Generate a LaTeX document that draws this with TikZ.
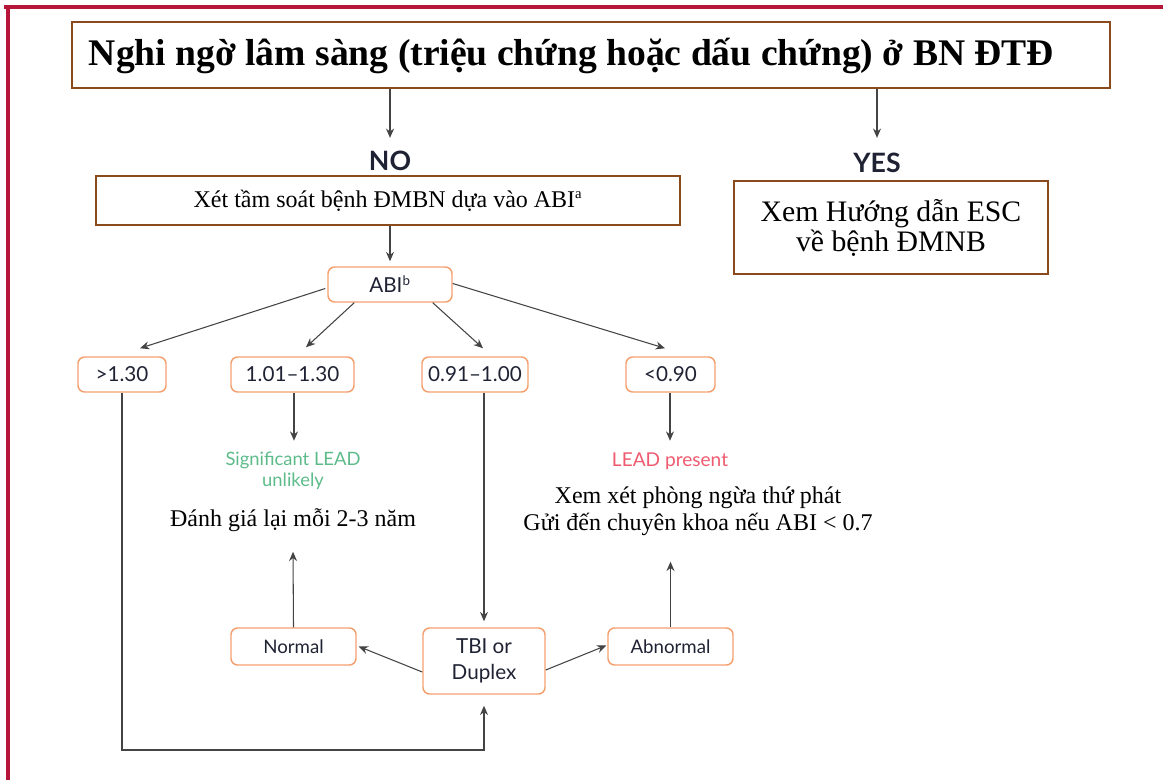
\documentclass[tikz,border=0pt]{standalone}
\usepackage{fontspec}
\setmainfont{Liberation Serif}
\newfontfamily\gs{Lato}
\usetikzlibrary{arrows.meta,calc}
\definecolor{frame}{HTML}{B5163A}
\definecolor{brownb}{HTML}{8B4A1C}
\definecolor{orb}{HTML}{F4A06E}
\definecolor{greent}{HTML}{5DBB8A}
\definecolor{redt}{HTML}{EE5A6F}
\definecolor{linec}{HTML}{444444}
\definecolor{navy}{HTML}{1F2233}
\begin{document}
\begin{tikzpicture}[x=0.75pt,y=-0.75pt,
  brownbox/.style={draw=brownb,line width=1.5pt,inner sep=0pt,align=center},
  orbox/.style={draw=orb,line width=1.1pt,rounded corners=5pt,inner sep=0pt,align=center,font=\gs\fontsize{14}{17}\selectfont,text=navy},
  rangebox/.style={orbox,font=\gs\fontsize{15.5}{18}\selectfont},
  arr/.style={draw=linec,line width=0.8pt,-{Stealth[length=7pt,width=6pt]}},
  ln/.style={draw=linec,line width=0.8pt},
  lbl/.style={inner sep=0pt,align=center}]
\useasboundingbox (0,0) rectangle (1163,780);
\draw[frame,line width=2.4pt] (4,7) -- (1163,7);
\draw[frame,line width=2.4pt] (8,6) -- (8,780);

\node[brownbox,minimum width=1038*0.75pt,minimum height=66*0.75pt] (title) at (591,55) {};
\node[lbl,font=\fontsize{28.2}{32}\selectfont\bfseries] (titletext) at (571.5,56)
  {Nghi ngờ lâm sàng (triệu chứng hoặc dấu chứng) ở BN ĐTĐ};

\node[lbl,font=\gs\fontsize{20}{24}\selectfont\bfseries,text=navy] (no) at (390,161) {NO};
\node[lbl,font=\gs\fontsize{20}{24}\selectfont\bfseries,text=navy] (yes) at (877,163) {YES};
\draw[arr] (title.south -| no) -- ($(no.north)+(0,-13)$);
\draw[arr] (title.south -| yes) -- ($(yes.north)+(0,-15)$);

\node[brownbox,minimum width=584*0.75pt,minimum height=49*0.75pt,font=\fontsize{18}{21}\selectfont] (xet) at (388,200.5)
  {Xét tầm soát bệnh ĐMBN dựa vào ABI\textsuperscript{\fontsize{11}{12}\selectfont a}};
\node[brownbox,minimum width=314*0.75pt,minimum height=93*0.75pt,font=\fontsize{22.3}{22.5}\selectfont] (esc) at (891,227.5)
  {Xem Hướng dẫn ESC\\về bệnh ĐMNB};

\node[rangebox,minimum width=124*0.75pt,minimum height=35*0.75pt] (abi) at (390,284.5) {ABI\textsuperscript{\fontsize{10}{11}\selectfont b}};
\draw[arr] (xet.south -| abi.north) -- ($(abi.north)+(0,-5)$);

\node[rangebox,minimum width=88*0.75pt,minimum height=35*0.75pt] (g130) at (122,374.5) {>1.30};
\node[rangebox,minimum width=123*0.75pt,minimum height=35*0.75pt] (b101) at (292.5,374.5) {1.01–1.30};
\node[rangebox,minimum width=106*0.75pt,minimum height=35*0.75pt] (b091) at (475,374.5) {0.91–1.00};
\node[rangebox,minimum width=89*0.75pt,minimum height=35*0.75pt] (l090) at (670.5,374.5) {<0.90};

\draw[arr] ($(abi.west)+(-2,4)$) -- ($(g130.north)+(18,-8)$);
\draw[arr] ($(abi.south west)+(27,0)$) -- ($(b101.north)+(13.5,-9)$);
\draw[arr] ($(abi.south east)+(-20,0)$) -- ($(b091.north)+(8,-8)$);
\draw[arr] ($(abi.east)+(0,-1)$) -- ($(l090.north)+(-5.5,-8)$);

\node[lbl,font=\gs\fontsize{13.8}{16}\selectfont,text=greent] (sig) at (293,471) {Significant LEAD\\unlikely};
\node[lbl,font=\fontsize{18}{21}\selectfont] (danh) at (293,520) {Đánh giá lại mỗi 2-3 năm};
\node[lbl,font=\gs\fontsize{14.3}{16}\selectfont,text=redt] (pres) at (670,461) {LEAD present};
\node[lbl,font=\fontsize{18}{20.2}\selectfont] (xem) at (698,511) {Xem xét phòng ngừa thứ phát\\Gửi đến chuyên khoa nếu ABI < 0.7};

\draw[arr] ($(b101.south)+(1.5,0)$) -- ($(b101.south)+(1.5,48)$);
\draw[arr] ($(l090.south)+(-0.5,0)$) -- ($(l090.south)+(-0.5,48)$);

\node[orbox,minimum width=122*0.75pt,minimum height=66*0.75pt,font=\gs\fontsize{15.5}{20}\selectfont] (tbi) at (484,661) {TBI or\\Duplex};
\node[orbox,minimum width=125*0.75pt,minimum height=37*0.75pt] (normal) at (293.5,646.5) {Normal};
\node[orbox,minimum width=125*0.75pt,minimum height=37*0.75pt] (abn) at (670.5,646.5) {Abnormal};

\draw[arr] (b091.south -| tbi.north) -- ($(tbi.north)+(0,-6)$);
\draw[arr] (g130.south) -- (g130.south |- 0,750) -| ($(tbi.south)+(0,11)$);
\draw[arr] ($(tbi.west)+(0,11)$) -- ($(normal.east)+(2,0)$);
\draw[arr] ($(tbi.east)+(0,9)$) -- ($(abn.west)+(-1,-1)$);
\draw[arr] (normal.north) -- ($(danh.south)+(0,20)$);
\draw[arr] (abn.north) -- ($(xem.south -| abn.north)+(0,26)$);
\end{tikzpicture}
\end{document}
